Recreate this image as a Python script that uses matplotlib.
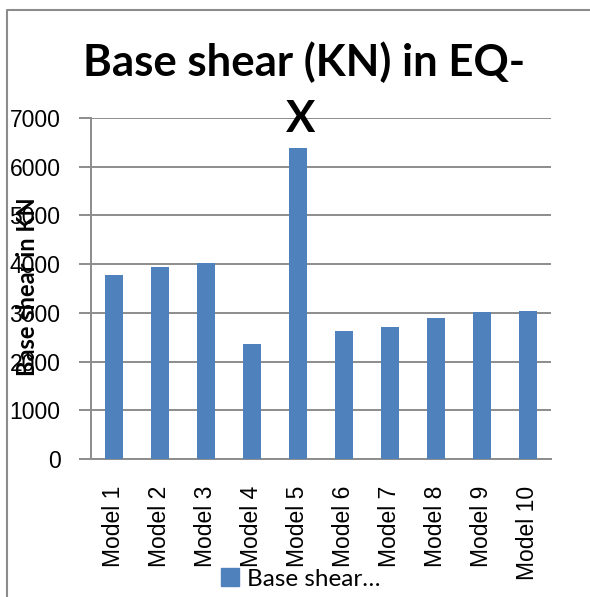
import matplotlib
matplotlib.use("Agg")
import matplotlib.pyplot as plt
from matplotlib.lines import Line2D
from matplotlib.patches import Patch

# Base shear per model (kN)
models = ["Model 1", "Model 2", "Model 3", "Model 4", "Model 5",
          "Model 6", "Model 7", "Model 8", "Model 9", "Model 10"]
base_shear = [3780, 3940, 4020, 2355, 6390, 2630, 2710, 2890, 3015, 3035]
y_ticks = [0, 1000, 2000, 3000, 4000, 5000, 6000, 7000]

W, H = 590, 597
DPI = 100
BAR = "#4F81BD"
GRID = "#8C8C8C"

fig = plt.figure(figsize=(W / DPI, H / DPI), dpi=DPI)
fig.patch.set_facecolor("white")

# plot area in pixel coordinates
x0, x1 = 91, 551
ytop, ybot = 118, 459
ax = fig.add_axes([x0 / W, 1 - ybot / H, (x1 - x0) / W, (ybot - ytop) / H])

xs = list(range(len(models)))
ax.bar(xs, base_shear, width=0.39, color=BAR, zorder=3, label="Base shear…")

ax.set_xlim(-0.5, len(models) - 0.5)
ax.set_ylim(0, 7000)
ax.set_yticks(y_ticks)
ax.set_yticklabels([str(v) for v in y_ticks], fontsize=16.5,
                   family="Liberation Sans")
ax.set_xticks(xs)
ax.set_xticklabels(models, rotation=90, fontsize=16.5,
                   family="Liberation Sans", va="top")

ax.yaxis.grid(True, color=GRID, linewidth=1.4, zorder=0)
ax.set_axisbelow(True)
for side in ("top", "right"):
    ax.spines[side].set_visible(False)
for side in ("left", "bottom"):
    ax.spines[side].set_color(GRID)
    ax.spines[side].set_linewidth(1.4)
ax.tick_params(axis="y", length=9, width=1.4, color=GRID, pad=13)
ax.tick_params(axis="x", length=0, pad=19)

# chart title (wrapped over two lines)
fig.text(304 / W, 1 - 62 / H, "Base shear (KN) in EQ-", ha="center",
         va="center", fontsize=31.5, fontweight="bold", family="Lato")
fig.text(301 / W, 1 - 119 / H, "X", ha="center", va="center",
         fontsize=31.5, fontweight="bold", family="Lato")

# y-axis title
fig.text(28 / W, 1 - 287 / H, "Base shear in KN", rotation=90,
         ha="center", va="center", fontsize=17, fontweight="bold",
         family="Lato")

# legend
handle = Patch(facecolor=BAR, edgecolor=BAR)
fig.legend([handle], ["Base shear…"], loc="center",
           bbox_to_anchor=(301 / W, 1 - 579 / H), frameon=False,
           prop={"family": "Lato", "size": 17.5}, handlelength=0.7,
           handleheight=0.7, handletextpad=0.35, borderpad=0)

# outer chart border
fig.add_artist(Line2D([7 / W, 7 / W, 1.0], [0.0, 1 - 10 / H, 1 - 10 / H],
                      transform=fig.transFigure, color=GRID, linewidth=1.5))

fig.savefig("out.png", dpi=DPI)
